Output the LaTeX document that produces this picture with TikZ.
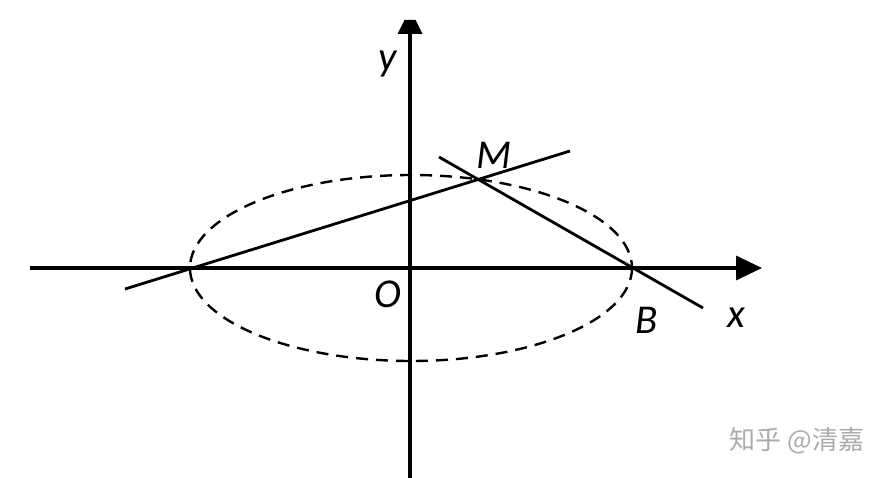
\documentclass[tikz,border=0pt]{standalone}
\usepackage{fontspec}
\setmainfont{Carlito}
\newfontfamily\cjk{Noto Sans CJK SC}
\usetikzlibrary{arrows.meta}
\begin{document}
\begin{tikzpicture}[x=1pt,y=-1pt,
  axis/.style={line width=3.4pt},
  seg/.style={line width=2.8pt},
  ell/.style={line width=2.4pt,dash pattern=on 12pt off 8pt},
  lbl/.style={font=\fontsize{41}{44}\selectfont\itshape,inner sep=0pt},
  wm/.style={font=\cjk\fontsize{26}{30}\selectfont,text=black!33,inner sep=0pt}]
\useasboundingbox (0,0) rectangle (891,478);
% coordinates
\coordinate (O) at (411,268);
\coordinate (xl) at (30,268);
\coordinate (xr) at (762,268);
\coordinate (yb) at (410,478);
\coordinate (yt) at (410,33);
\coordinate (A) at (192,268);
\coordinate (B) at (633,268);
\coordinate (M) at (478,180);
\coordinate (l1a) at (125,289);
\coordinate (l1b) at (570,151);
\coordinate (l2a) at (439,157);
\coordinate (l2b) at (703,308);
% ellipse
\draw[ell] (O) ellipse [x radius=221, y radius=93];
% axes
\draw[axis,-{Triangle[length=26pt,width=24pt]}] (xl) -- (xr);
\draw[axis] (yb) -- (yt);
\fill (397.5,34) -- (422.5,34) -- (415.5,20) -- (404.5,20) -- cycle;
% lines
\draw[seg] (l1a) -- (l1b);
\draw[seg] (l2a) -- (l2b);
% labels
\node[lbl] (ly) at (388,64) {y};
\node[lbl] (lM) at (494,155) {M};
\node[lbl] (lO) at (388,294) {O};
\node[lbl] (lB) at (647,320) {B};
\node[lbl] (lx) at (736,318) {x};
\node[wm] (w) at (797,441) {知乎 @清嘉};
\end{tikzpicture}
\end{document}
